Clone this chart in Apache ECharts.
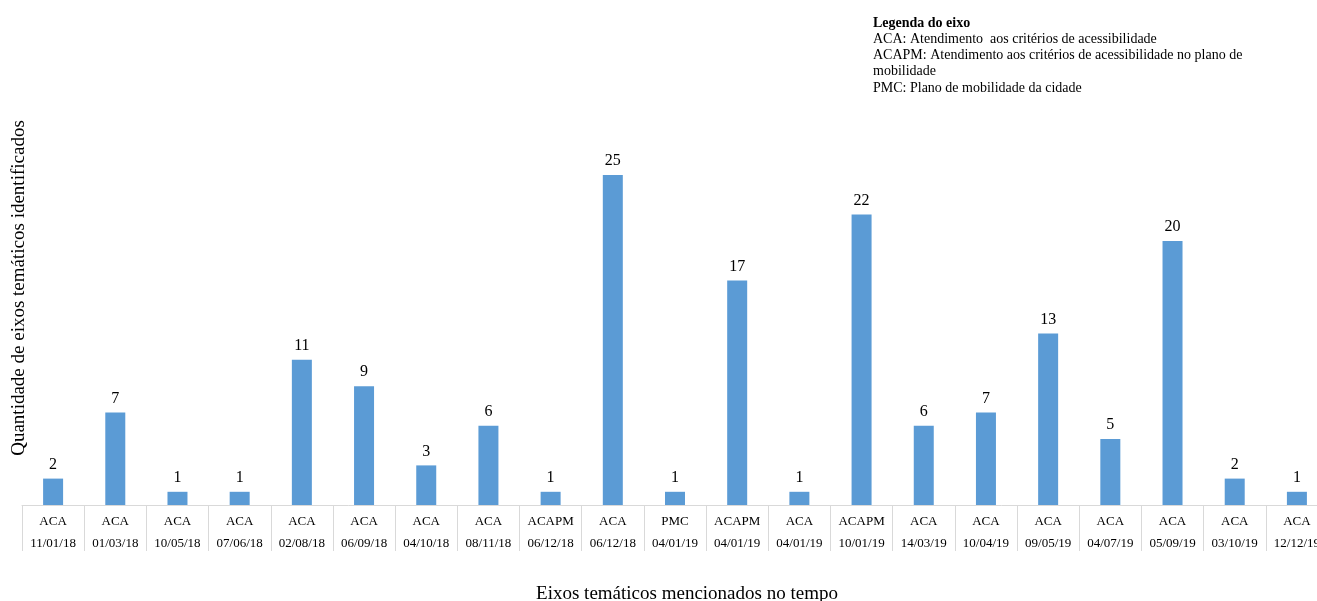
<!DOCTYPE html>
<html>
<head>
<meta charset="utf-8">
<script src="https://cdn.jsdelivr.net/npm/echarts@6/dist/echarts.min.js"></script>
<style>
  html, body { margin: 0; padding: 0; background: #fff; overflow: hidden; }
  #chart { width: 1340px; height: 601px; }
</style>
</head>
<body>
<div id="chart"></div>
<script>
// Thematic axis codes and meeting dates for each mention
const eixos = ['ACA','ACA','ACA','ACA','ACA','ACA','ACA','ACA','ACAPM','ACA','PMC','ACAPM','ACA','ACAPM','ACA','ACA','ACA','ACA','ACA','ACA','ACA'];
const datas = ['11/01/18','01/03/18','10/05/18','07/06/18','02/08/18','06/09/18','04/10/18','08/11/18','06/12/18','06/12/18','04/01/19','04/01/19','04/01/19','10/01/19','14/03/19','10/04/19','09/05/19','04/07/19','05/09/19','03/10/19','12/12/19'];
// Number of identified thematic axes
const quantidades = [2,7,1,1,11,9,3,6,1,25,1,17,1,22,6,7,13,5,20,2,1];

const legendaTitulo = 'Legenda do eixo';
const legendaLinhas = [
  'ACA: Atendimento  aos critérios de acessibilidade',
  'ACAPM: Atendimento aos critérios de acessibilidade no plano de',
  'mobilidade',
  'PMC: Plano de mobilidade da cidade'
];
const tituloY = 'Quantidade de eixos temáticos identificados';
const tituloX = 'Eixos temáticos mencionados no tempo';

const serif = '"Liberation Serif", "Times New Roman", serif';
const categorias = eixos.map((e, i) => e + '|' + datas[i]);

const chart = echarts.init(document.getElementById('chart'));

const legendaGraficos = [
  { type: 'text', left: 873, top: 16, style: { text: legendaTitulo, font: 'bold 14px ' + serif, fill: '#000' } }
].concat(legendaLinhas.map((t, i) => ({
  type: 'text', left: 873, top: 32 + i * 16.4,
  style: { text: t, font: '14px ' + serif, fill: '#000' }
})));

chart.setOption({
  animation: false,
  backgroundColor: '#fff',
  grid: { left: 22, top: 109, width: 1306, height: 396 },
  xAxis: {
    type: 'category',
    data: categorias,
    axisLine: { lineStyle: { color: '#d9d9d9', width: 1 } },
    axisTick: { show: true, length: 46, lineStyle: { color: '#d9d9d9' } },
    axisLabel: {
      interval: 0,
      margin: 6,
      formatter: v => {
        const [e, d] = v.split('|');
        return '{a|' + e + '}\n{b|' + d + '}';
      },
      rich: {
        a: { fontFamily: serif, fontSize: 13, color: '#000', lineHeight: 22 },
        b: { fontFamily: serif, fontSize: 13, color: '#000', lineHeight: 22 }
      }
    }
  },
  yAxis: {
    type: 'value', min: 0, max: 30, show: false,
    splitLine: { show: false }
  },
  series: [{
    type: 'bar',
    data: quantidades,
    barWidth: 20,
    itemStyle: { color: '#5b9bd5' },
    label: {
      show: true, position: 'top', distance: 6,
      fontFamily: serif, fontSize: 16, color: '#000'
    }
  }],
  graphic: [
    {
      type: 'text', x: 10, y: 288, rotation: Math.PI / 2,
      style: { text: tituloY, font: '19px ' + serif, fill: '#000', align: 'center', verticalAlign: 'top' }
    },
    {
      type: 'text', x: 687, y: 585,
      style: { text: tituloX, font: '19px ' + serif, fill: '#000', align: 'center', verticalAlign: 'top' }
    }
  ].concat(legendaGraficos)
});
</script>
</body>
</html>
